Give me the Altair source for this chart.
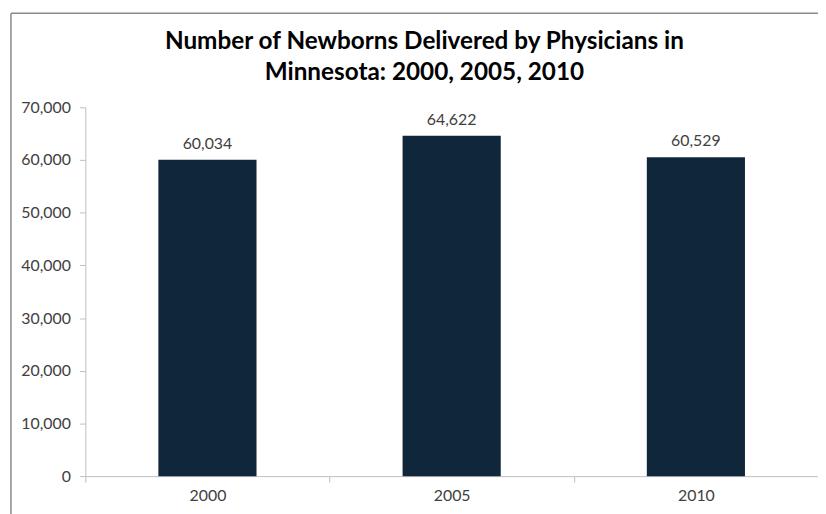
import altair as alt
import pandas as pd

years = ["2000", "2005", "2010"]
newborns = [60034, 64622, 60529]
y_ticks = [0, 10000, 20000, 30000, 40000, 50000, 60000, 70000]
title_lines = ["Number of Newborns Delivered by Physicians in", "Minnesota: 2000, 2005, 2010"]

FONT = "Lato"
df = pd.DataFrame({"year": years, "count": newborns})

x_enc = alt.X("year:N", sort=years, title=None,
              scale=alt.Scale(paddingInner=0, paddingOuter=0),
              axis=alt.Axis(labelAngle=0, tickBand="extent", domainColor="#bfbfbf",
                            tickColor="#bfbfbf", tickSize=6, labelPadding=6,
                            labelFont=FONT, labelFontSize=16, labelColor="#404040"))
y_enc = alt.Y("count:Q", title=None,
              scale=alt.Scale(domain=[0, 70000], nice=False),
              axis=alt.Axis(values=y_ticks, format=",.0f", grid=False, domainColor="#bfbfbf",
                            tickColor="#bfbfbf", tickSize=6, labelPadding=9,
                            labelFont=FONT, labelFontSize=16, labelColor="#404040"))

bars = alt.Chart(df).mark_bar(size=99, color="#10263A").encode(x=x_enc, y=y_enc)
labels = alt.Chart(df).mark_text(baseline="bottom", dy=-8, font=FONT, fontSize=16,
                                 color="#404040").encode(
    x=x_enc, y=y_enc, text=alt.Text("count:Q", format=","))

frame = pd.DataFrame({"k": [0]})
top_border = alt.Chart(frame).mark_rule(color="#8a8a8a", strokeWidth=1.5).encode(
    x=alt.value(-75), x2=alt.value(760), y=alt.value(-95))
left_border = alt.Chart(frame).mark_rule(color="#8a8a8a", strokeWidth=1.5).encode(
    x=alt.value(-75), y=alt.value(-95), y2=alt.value(420))
title = alt.Chart(frame).mark_text(
    text=title_lines, font=FONT, fontSize=24.5, fontWeight="bold", color="#000000",
    align="center", baseline="alphabetic", lineHeight=31).encode(
    x=alt.value(342), y=alt.value(-59))

chart = alt.layer(top_border, left_border, title, bars, labels).properties(
    width=739, height=372,
    autosize=alt.AutoSizeParams(type="none"),
    padding={"left": 78, "top": 98, "right": 0, "bottom": 36},
).configure_view(stroke=None)

chart.save("out.html", embed_options={"renderer": "svg", "actions": False})
